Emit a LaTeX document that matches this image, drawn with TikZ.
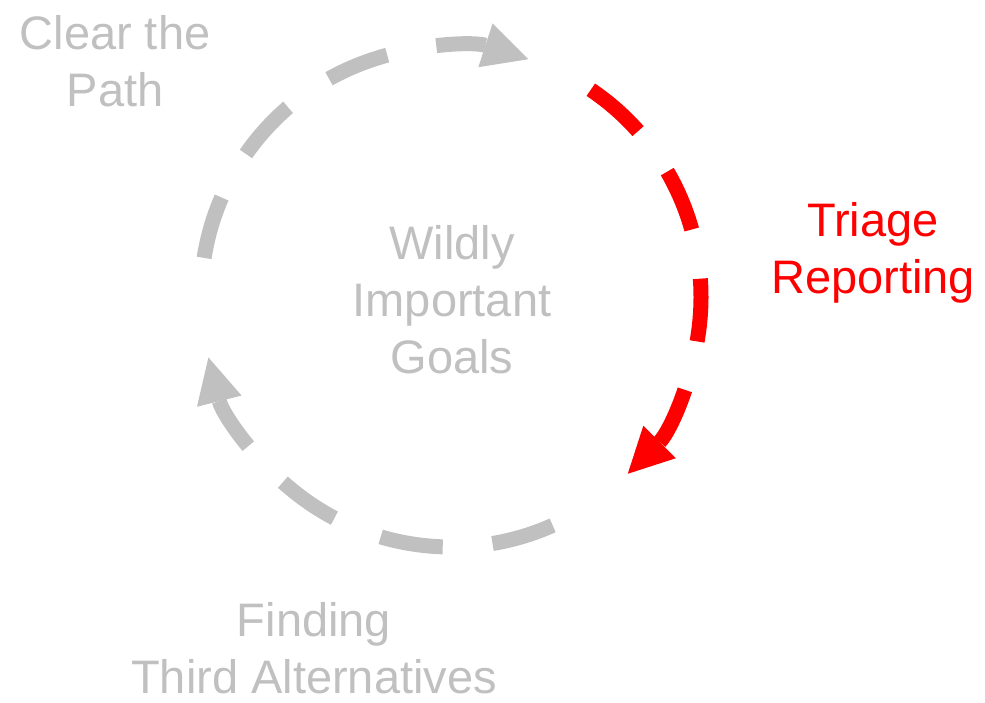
\documentclass[tikz,border=0pt]{standalone}
\usepackage{fontspec}
\setmainfont{Liberation Sans}
\usepackage{tikz}
\usetikzlibrary{arrows.meta, positioning, calc}

\definecolor{softgray}{RGB}{192,192,192}
\definecolor{hotred}{RGB}{255,0,0}

\tikzset{
  looparc/.style={line width=15pt, dash pattern=on 63pt off 50pt,
    -{Triangle[width=46pt, length=45pt, line width=0pt]}},
  phase/.style={font=\fontsize{47}{57}\selectfont, align=center, inner sep=0pt}
}

\begin{document}
\begin{tikzpicture}[x=1pt, y=1pt]
\useasboundingbox (0,0) rectangle (985,702);
\coordinate (hub) at (451,405);
% the three parts of the cycle
\draw [looparc, softgray] ([shift={(171:250)}]hub) arc [start angle=171, end angle=72, radius=250];
\draw [looparc, hotred] ([shift={(56:250)}]hub) arc [start angle=56, end angle=-45, radius=250];
\draw [looparc, softgray] ([shift={(-66:250)}]hub) arc [start angle=-66, end angle=-166, radius=250];
% labels
\node [phase, text=softgray] (goals) at ($(hub)+(1,-3)$) {Wildly\\Important\\Goals};
\node [phase, text=softgray] (clear) at (115,641) {Clear the\\Path};
\node [phase, text=hotred] (triage) at (873,449) {Triage\\Reporting};
\node [phase, text=softgray] (finding) at (314,54) {Finding\\Third Alternatives};
\end{tikzpicture}
\end{document}
